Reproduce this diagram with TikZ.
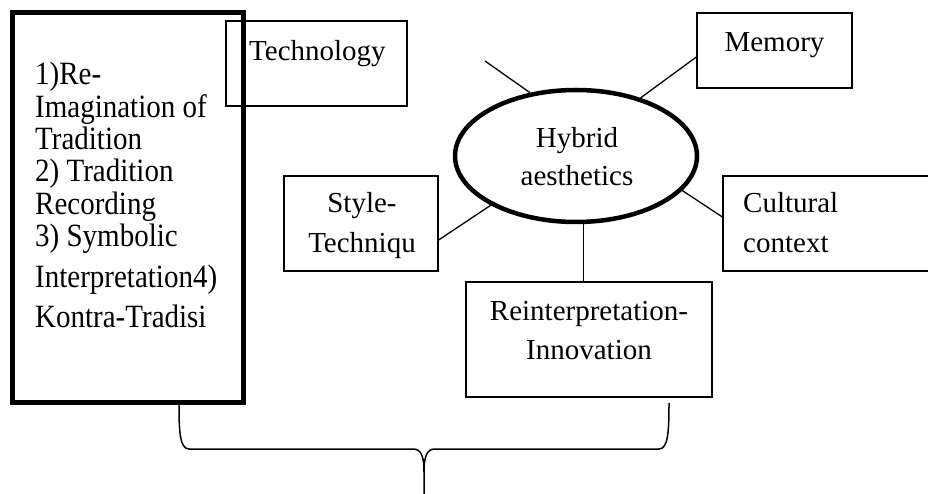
\documentclass[tikz,border=0pt]{standalone}
\usepackage{graphicx}
\usepackage{fontspec}
\setmainfont{Liberation Serif}
\usetikzlibrary{shapes.geometric,calc}
% slightly tall lettering used in the side panel
\newcommand\tallline[1]{\scalebox{1}[1.12]{#1}}
\begin{document}
\begin{tikzpicture}[x=1pt,y=-1pt,
  box/.style={draw,line width=1.3pt,rectangle,inner sep=0pt},
  heavybox/.style={draw,line width=5pt,rectangle,inner sep=0pt},
  hub/.style={draw,line width=4.5pt,ellipse,inner sep=0pt},
  lbl/.style={font=\fontsize{29}{34}\selectfont,inner sep=0pt},
  link/.style={line width=1.3pt},
  brace/.style={line width=1.5pt}]
\useasboundingbox (0,0) rectangle (928,494);
\clip (0,0) rectangle (928,494);

% frames
\node[heavybox,minimum width=230.5pt,minimum height=390pt] (trad) at (127.75,207.5) {};
\node[box,minimum width=181pt,minimum height=85pt] (tech) at (316.5,63.5) {};
\node[box,minimum width=155pt,minimum height=75pt] (mem) at (774.5,50.5) {};
\node[box,minimum width=154pt,minimum height=95pt] (sty) at (361,223.5) {};
\node[box,minimum width=237pt,minimum height=95pt] (cul) at (841.5,223.5) {};
\node[box,minimum width=246pt,minimum height=115pt] (rei) at (589,339.5) {};
\node[hub,minimum width=242pt,minimum height=132pt] (ell) at (576,156) {};

% side panel text
\node[lbl,anchor=base west] (t1) at (35,85) {\tallline{1)Re-}};
\node[lbl,anchor=base west] (t2) at (35,117.5) {\tallline{Imagination of}};
\node[lbl,anchor=base west] (t3) at (35,150) {\tallline{Tradition}};
\node[lbl,anchor=base west] (t4) at (35,182) {\tallline{2) Tradition}};
\node[lbl,anchor=base west] (t5) at (35,214.5) {\tallline{Recording}};
\node[lbl,anchor=base west] (t6) at (35,247) {\tallline{3) Symbolic}};
\node[lbl,anchor=base west] (t7) at (35,287) {\tallline{Interpretation4)}};
\node[lbl,anchor=base west] (t8) at (35,327) {\tallline{Kontra-Tradisi}};

% box and hub text
\node[lbl,anchor=base west] (techlbl) at (249,61) {Technology};
\node[lbl,anchor=base] (memlbl) at (774.5,52) {Memory};
\node[lbl,anchor=base] (hub1) at (577,148) {Hybrid};
\node[lbl,anchor=base] (hub2) at (577,186) {aesthetics};
\node[lbl,anchor=base] (sty1) at (362,213) {Style-};
\node[lbl,anchor=base] (sty2) at (362,252) {Techniqu};
\node[lbl,anchor=base west] (cul1) at (743,213) {Cultural};
\node[lbl,anchor=base west] (cul2) at (743,252) {context};
\node[lbl,anchor=base] (rei1) at (589,320) {Reinterpretation-};
\node[lbl,anchor=base] (rei2) at (589,359) {Innovation};

% spokes
\coordinate (tf) at (485,61);
\draw[link] (tf) -- (ell.126);
\draw[link] (ell.42) -- ($(mem.west)+(0,6.5)$);
\draw[link] ($(sty.east)+(0,16.5)$) -- (ell.210);
\draw[link] (ell.-18) -- ($(cul.west)+(0,-6.5)$);
\draw[link] (ell.-84) -- (ell.-84 |- rei.north);

% brace under the two lower boxes
\coordinate (bl) at (179,405);
\coordinate (br) at (669,403);
\coordinate (tip) at (424,494);
\draw[brace] (bl) .. controls (179,432) and (180,449) .. (189,449)
  -- (413,449) .. controls (421,449) and (424,456) .. (424,472) -- (tip);
\draw[brace] (br) .. controls (669,432) and (668,449) .. (659,449)
  -- (435,449) .. controls (427,449) and (424,456) .. (424,472);
\end{tikzpicture}
\end{document}
